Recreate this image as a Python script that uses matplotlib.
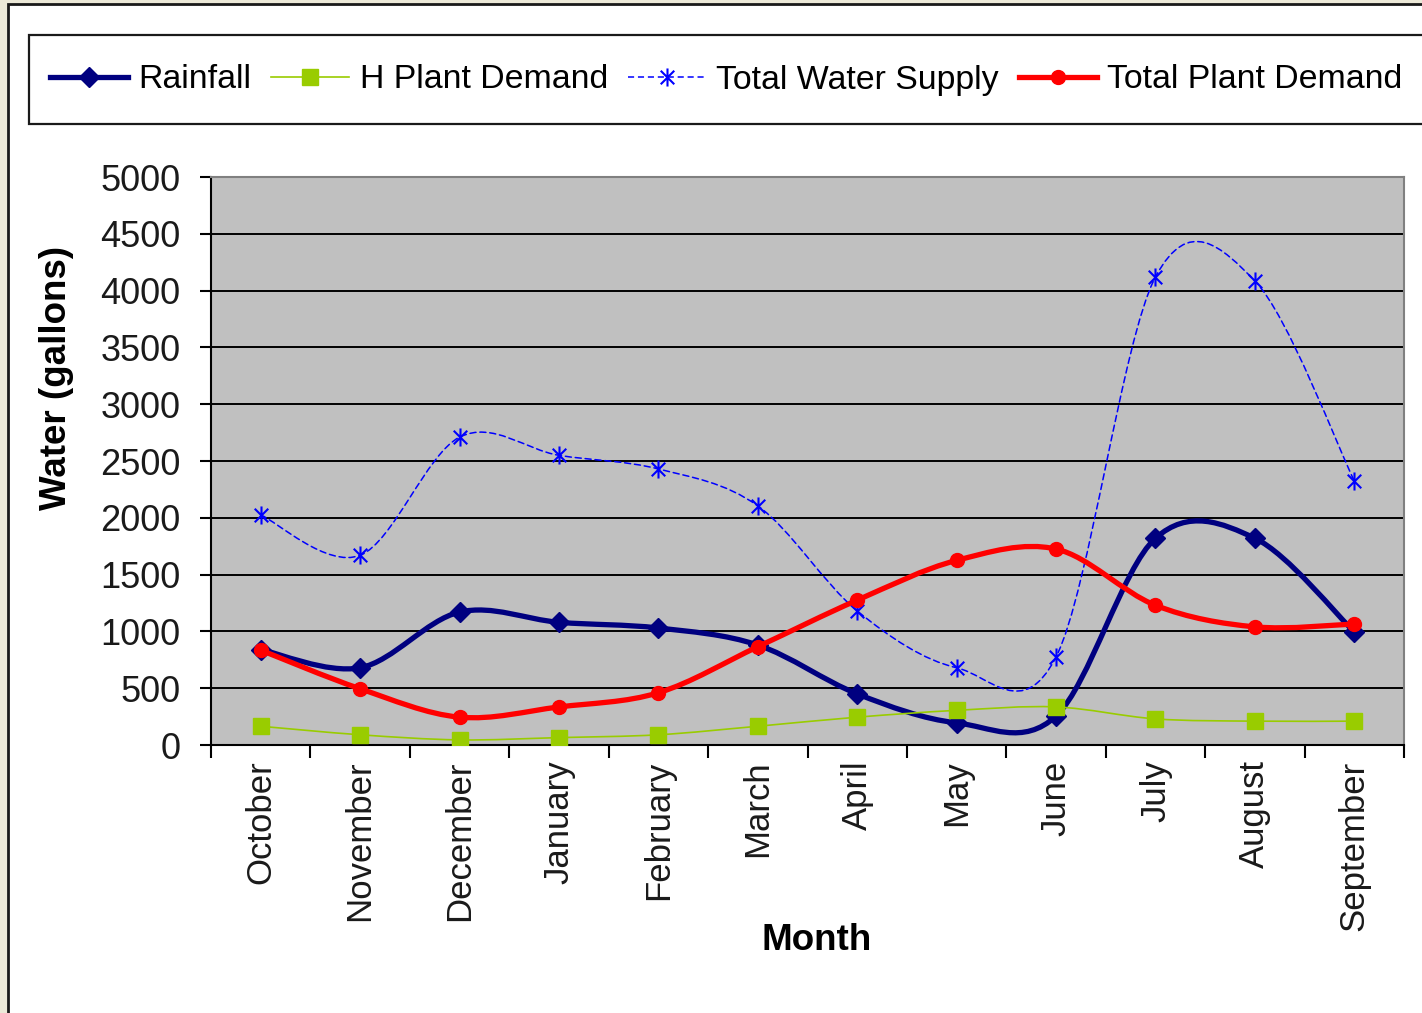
import numpy as np
import matplotlib.pyplot as plt
from matplotlib.path import Path
from matplotlib.patches import PathPatch, Rectangle
from matplotlib.lines import Line2D

plt.rcParams['font.family'] = ['Liberation Sans', 'DejaVu Sans']

# data
months = ['October', 'November', 'December', 'January', 'February', 'March',
          'April', 'May', 'June', 'July', 'August', 'September']
rainfall = [840, 680, 1170, 1080, 1030, 880, 450, 195, 255, 1820, 1820, 995]
h_plant_demand = [165, 90, 45, 65, 90, 165, 245, 305, 335, 230, 210, 210]
total_water_supply = [2025, 1670, 2710, 2550, 2430, 2105, 1180, 680, 775, 4120, 4085, 2325]
total_plant_demand = [835, 495, 245, 335, 460, 865, 1275, 1625, 1725, 1230, 1040, 1065]
yticks = np.arange(0, 5001, 500)


def smooth_path(x, y):
    # excel-style smoothed line: cubic bezier through the points
    pts = np.column_stack([x, y]).astype(float)
    ext = np.vstack([pts[0], pts, pts[-1]])
    verts = [pts[0]]
    codes = [Path.MOVETO]
    for i in range(len(pts) - 1):
        p0, p1, p2, p3 = ext[i], ext[i + 1], ext[i + 2], ext[i + 3]
        verts += [p1 + (p2 - p0) / 6, p2 - (p3 - p1) / 6, p2]
        codes += [Path.CURVE4] * 3
    return Path(verts, codes)


# asterisk marker: vertical bar plus an x
ast = Path([(0, -1), (0, 1), (-0.75, -0.75), (0.75, 0.75), (-0.75, 0.75), (0.75, -0.75)],
           [Path.MOVETO, Path.LINETO, Path.MOVETO, Path.LINETO, Path.MOVETO, Path.LINETO])

W, H = 1422, 1013
fig = plt.figure(figsize=(W / 100, H / 100), dpi=100, facecolor='#ECE9D8')

# white chart area with dark border
fig.patches.append(Rectangle((8 / W, -0.1), 2, 1 - 4 / H + 0.1, transform=fig.transFigure,
                             facecolor='white', edgecolor='#1a1a1a', lw=2, zorder=-3))
# legend frame
fig.patches.append(Rectangle((29 / W, 1 - 124 / H), 2, 89 / H, transform=fig.transFigure,
                             facecolor='white', edgecolor='#1a1a1a', lw=1.6, zorder=-2))

ax = fig.add_axes([211 / W, 1 - 745 / H, 1193 / W, 568 / H])
ax.set_facecolor('#C0C0C0')
x = np.arange(len(months))

series = [
    (rainfall, '#000080', 3.8, '-', 'D', 10.5, 'Rainfall'),
    (h_plant_demand, '#99CC00', 1.2, '-', 's', 12, 'H Plant Demand'),
    (total_water_supply, '#0000FF', 1.1, (0, (4, 2.5)), ast, 13, 'Total Water Supply'),
    (total_plant_demand, '#FF0000', 3.8, '-', 'o', 10, 'Total Plant Demand'),
]
order = [1, 2, 0, 3]
handles = []
for k, (vals, col, lw, ls, mk, ms, name) in enumerate(series):
    z = 3 + order[k]
    ax.add_patch(PathPatch(smooth_path(x, vals), fill=False, edgecolor=col, lw=lw,
                           linestyle=ls, zorder=z, capstyle='round'))
    if mk is ast:
        ax.plot(x, vals, linestyle='none', marker=mk, ms=ms, mec=col, mfc='none', mew=1.5, zorder=z)
    else:
        ax.plot(x, vals, linestyle='none', marker=mk, ms=ms, color=col, zorder=z)
    handles.append(Line2D([], [], color=col, lw=lw, linestyle=ls, marker=mk, ms=ms,
                          mec=col, mfc=col if mk is not ast else 'none',
                          mew=1.5 if mk is ast else 1))

ax.set_xlim(-0.5, len(months) - 0.5)
ax.set_ylim(0, 5000)
ax.set_yticks(yticks)
ax.yaxis.grid(True, color='black', lw=1.4)
ax.set_axisbelow(True)
for s in ['top', 'right']:
    ax.spines[s].set_color('#808080')
    ax.spines[s].set_linewidth(1.5)
for s in ['left', 'bottom']:
    ax.spines[s].set_color('black')
    ax.spines[s].set_linewidth(1.5)

ax.tick_params(axis='y', direction='out', length=8, width=1.5, pad=14,
               labelsize=26, labelcolor='#1a1a1a')
ax.set_xticks(x)
ax.set_xticklabels(months, rotation=90, fontsize=25, color='#1a1a1a', va='top', ha='center')
ax.tick_params(axis='x', length=0, pad=11)
ax.set_xticks(np.arange(-0.5, len(months)), minor=True)
ax.tick_params(axis='x', which='minor', direction='out', length=9, width=1.5)

fig.text(56 / W, 1 - 378 / H, 'Water (gallons)', rotation=90, ha='center', va='center',
         fontsize=26.5, fontweight='bold')
fig.text(817 / W, 1 - 940 / H, 'Month', ha='center', va='center', fontsize=26.5, fontweight='bold')

fig.legend(handles, [s[-1] for s in series], loc='center left',
           bbox_to_anchor=(50 / W, 1 - 80 / H), ncol=4, frameon=False, fontsize=24.4,
           handlelength=2.3, handletextpad=0.3, columnspacing=0.6,
           borderpad=0, borderaxespad=0)

fig.savefig('out.png', dpi=100, facecolor=fig.get_facecolor())
